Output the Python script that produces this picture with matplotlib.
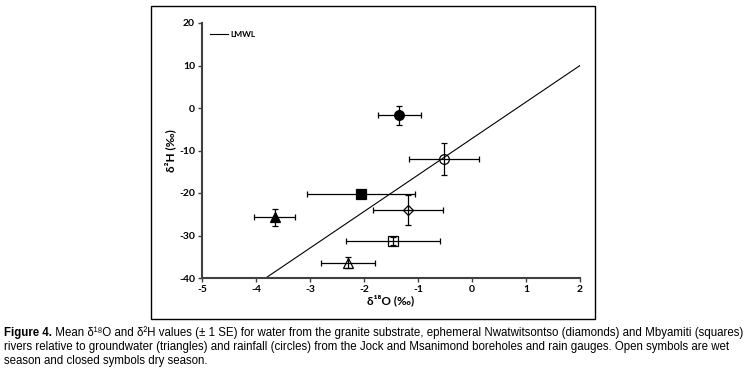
import matplotlib
matplotlib.use("Agg")
import matplotlib.pyplot as plt
from matplotlib.patches import Rectangle

plt.rcParams["axes.unicode_minus"] = False

# Mean d18O / d2H values (+/- 1 SE)
labels = ["rain dry", "rain wet", "Mbyamiti dry", "Mbyamiti wet",
          "Nwatwitsontso wet", "groundwater dry", "groundwater wet"]
d18o = [-1.35, -0.52, -2.05, -1.46, -1.19, -3.65, -2.30]
d2h = [-1.7, -12.0, -20.3, -31.3, -24.0, -25.7, -36.4]
d18o_se = [0.40, 0.65, 1.00, 0.87, 0.65, 0.38, 0.50]
d2h_se = [2.2, 3.7, 0.8, 1.0, 3.45, 2.05, 1.3]
markers = ["o", "o", "s", "s", "D", "^", "^"]
filled = [True, False, True, False, False, True, False]

# local meteoric water line end points
lmwl_x = [-3.82, 2.0]
lmwl_y = [-40, 10]

xticks = [-5, -4, -3, -2, -1, 0, 1, 2]
yticks = [-40, -30, -20, -10, 0, 10, 20]

caption_bold = "Figure 4."
caption_rest = (" Mean δ¹⁸O and δ²H values (± 1 SE) for water from the granite substrate, "
                "ephemeral Nwatwitsontso (diamonds) and Mbyamiti (squares)")
caption_2 = ("rivers relative to groundwater (triangles) and rainfall (circles) from the Jock "
             "and Msanimond boreholes and rain gauges. Open symbols are wet")
caption_3 = "season and closed symbols dry season."

fam = ["Lato", "DejaVu Sans"]
cap_fam = ["Liberation Sans Narrow", "Liberation Sans", "DejaVu Sans"]
cap_size = 8.3

fig = plt.figure(figsize=(7.48, 3.77), dpi=100)
W, H = 748, 377
ax = fig.add_axes([202 / W, 1 - 278 / H, (580 - 202) / W, (278 - 23) / H])

ax.plot(lmwl_x, lmwl_y, color="black", lw=0.8, label="LMWL")

sizes = {"o": 7, "s": 7, "D": 5.5, "^": 6.5}
for x, y, xe, ye, m, f in zip(d18o, d2h, d18o_se, d2h_se, markers, filled):
    ax.errorbar(x, y, xerr=xe, yerr=ye, fmt=m, ms=sizes[m],
                mfc="black" if f else "none", mec="black", mew=0.9,
                ecolor="black", elinewidth=0.9, capsize=2.2, capthick=0.9,
                zorder=3)

ax.set_xlim(-5, 2)
ax.set_ylim(-40, 20)
ax.set_xticks(xticks)
ax.set_yticks(yticks)
for s in ["top", "right"]:
    ax.spines[s].set_visible(False)
for s in ["left", "bottom"]:
    ax.spines[s].set_color("#404040")
    ax.spines[s].set_linewidth(1.5)
ax.tick_params(length=3, width=1, color="#404040", labelsize=7.5, pad=2)
for t in ax.get_xticklabels() + ax.get_yticklabels():
    t.set_family(fam)
    t.set_fontweight("bold")

ax.set_xlabel("δ¹⁸O (‰)", family=fam, fontweight="bold", fontsize=8.5, labelpad=0)
ax.set_ylabel("δ²H (‰)", family=fam, fontweight="bold", fontsize=8.5, labelpad=2)

leg = ax.legend(loc="upper left", frameon=False, handlelength=2.2,
                prop={"family": fam, "weight": "bold", "size": 6},
                borderaxespad=0.5, handletextpad=0.3)

# outer chart frame
fig.patches.append(Rectangle((151 / W, 1 - 319 / H), (595 - 151) / W, (319 - 6) / H,
                             transform=fig.transFigure, fill=False,
                             edgecolor="black", lw=1))

# caption
t1 = fig.text(4 / W, 1 - 333 / H, caption_bold, family=cap_fam, fontweight="bold",
              fontsize=cap_size, va="center")
fig.canvas.draw()
bb = t1.get_window_extent()
fig.text(bb.x1 / W, 1 - 333 / H, caption_rest, family=cap_fam, fontsize=cap_size, va="center")
fig.text(4 / W, 1 - 347 / H, caption_2, family=cap_fam, fontsize=cap_size, va="center")
fig.text(4 / W, 1 - 361 / H, caption_3, family=cap_fam, fontsize=cap_size, va="center")

fig.savefig("out.png", dpi=100)
